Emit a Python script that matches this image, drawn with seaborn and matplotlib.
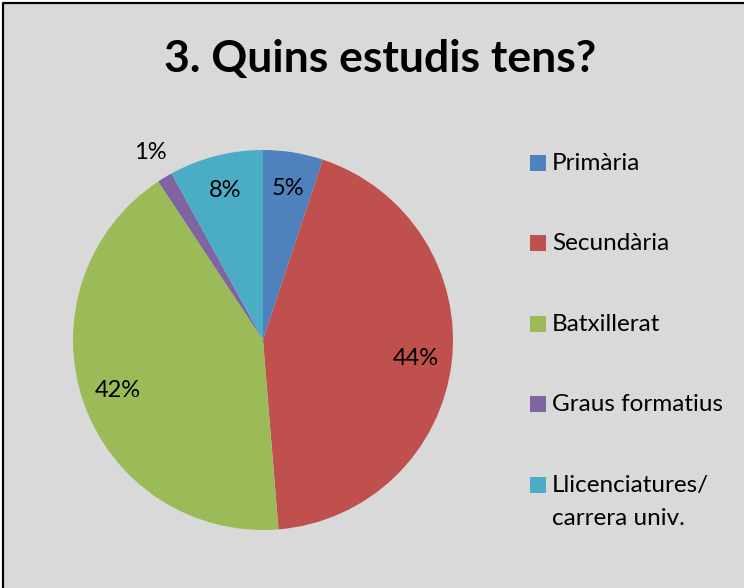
import matplotlib
matplotlib.use("Agg")
import matplotlib.pyplot as plt
from matplotlib.patches import Rectangle
from matplotlib.lines import Line2D
import seaborn as sns
import numpy as np

categories = ["Primària", "Secundària", "Batxillerat", "Graus formatius",
              "Llicenciatures/\ncarrera univ."]
percentages = [5.1, 43.6, 42.0, 1.3, 8.0]
colors = ["#4F81BD", "#C0504D", "#9BBB59", "#8064A2", "#4BACC6"]
title = "3. Quins estudis tens?"

sns.set_style("white")
plt.rcParams["font.family"] = ["Lato", "DejaVu Sans"]
plt.rcParams["text.color"] = "black"

W, H = 744, 588
fig = plt.figure(figsize=(W / 100, H / 100), dpi=100)
fig.patch.set_facecolor("white")

# gray chart area, frame only visible on left and top (image is cropped)
x0, y0 = 3 / W, 1 - 3 / H
fig.add_artist(Rectangle((x0, 0), 1 - x0, y0, transform=fig.transFigure,
                         facecolor="#D9D9D9", linewidth=0, zorder=0))
fig.add_artist(Line2D([x0, x0, 1], [0, y0, y0], transform=fig.transFigure,
                      color="black", linewidth=1.6, zorder=1))

fig.text(380 / W, 1 - 72 / H, title, ha="center", va="baseline",
         fontsize=32, fontweight="bold", color="black")

# pie axes: center (263, 340) px, radius 190 px
cx, cy, r = 263, 340, 190
ax = fig.add_axes([(cx - r) / W, (H - cy - r) / H, 2 * r / W, 2 * r / H])
ax.set_facecolor("none")

wedges, texts, autotexts = ax.pie(
    percentages,
    colors=colors,
    startangle=90,
    counterclock=False,
    autopct=lambda p: f"{p:.0f}%",
    pctdistance=0.81,
    wedgeprops=dict(linewidth=0),
    textprops=dict(fontsize=17, color="black"),
)
ax.set_xlim(-1, 1)
ax.set_ylim(-1, 1)
ax.axis("off")

# small slice label goes outside
w = wedges[3]
ang = np.deg2rad((w.theta1 + w.theta2) / 2)
autotexts[3].set_position((1.15 * np.cos(ang), 1.15 * np.sin(ang)))

# legend, handle aligned with first text line
for i, (wd, lab) in enumerate(zip(wedges, categories)):
    base = 170 + i * 80.4
    fig.add_artist(Rectangle((530 / W, 1 - (base + 1) / H), 16 / W, 16 / H,
                             transform=fig.transFigure,
                             facecolor=wd.get_facecolor(), linewidth=0))
    for j, line in enumerate(lab.split("\n")):
        fig.text(552 / W, 1 - (base + 33 * j) / H, line, ha="left",
                 va="baseline", fontsize=17.5, color="black")

fig.savefig("out.png", dpi=100)
